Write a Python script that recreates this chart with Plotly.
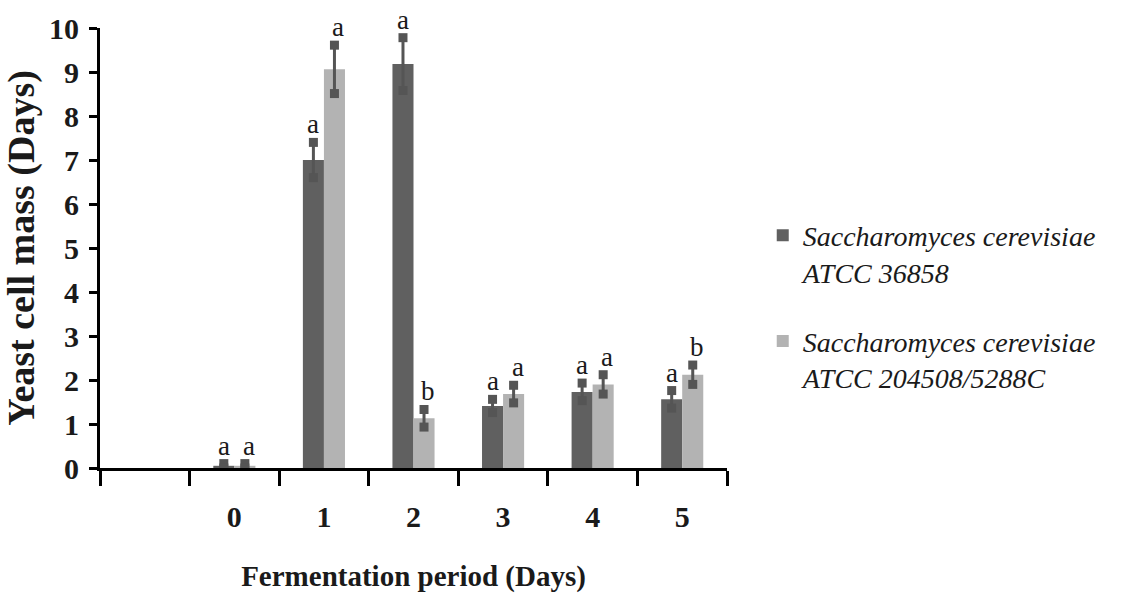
import plotly.graph_objects as go

# ---- data ----
days = [0, 1, 2, 3, 4, 5]
tick_labels = ["0", "1", "2", "3", "4", "5"]
series_names = ["<i>Saccharomyces cerevisiae</i><br><i>ATCC 36858</i>",
                "<i>Saccharomyces cerevisiae</i><br><i>ATCC 204508/5288C</i>"]
atcc36858 = [0.05, 7.0, 9.18, 1.41, 1.73, 1.56]
atcc36858_err = [0.05, 0.4, 0.6, 0.15, 0.2, 0.2]
atcc204508 = [0.05, 9.06, 1.13, 1.68, 1.9, 2.12]
atcc204508_err = [0.05, 0.55, 0.2, 0.2, 0.22, 0.22]
letters_36858 = ["a", "a", "a", "a", "a", "a"]
letters_204508 = ["a", "a", "b", "a", "a", "b"]

# ---- style ----
SERIF = "Liberation Serif"
DARK = "#606060"
LIGHT = "#b3b3b3"
ERR = "#555555"
BAR_W = 0.235  # width of each bar in category units

fig = go.Figure()

series = [
    (series_names[0], atcc36858, atcc36858_err, DARK, -BAR_W, letters_36858, 0),
    (series_names[1], atcc204508, atcc204508_err, LIGHT, 0.0, letters_204508, 4),
]

for name, vals, errs, color, off, letters, xs in series:
    fig.add_trace(go.Bar(
        x=days, y=vals, name=name, width=BAR_W, offset=off,
        marker=dict(color=color, line=dict(width=0)),
        error_y=dict(type="data", array=errs, color=ERR, thickness=3, width=0),
        legendgroup=name,
    ))
    centers = [d + off + BAR_W / 2 for d in days]
    ends_y = [v + e for v, e in zip(vals, errs)] + [v - e for v, e in zip(vals, errs)]
    fig.add_trace(go.Scatter(
        x=centers + centers, y=ends_y, mode="markers",
        marker=dict(symbol="square", size=9, color=ERR),
        showlegend=False, hoverinfo="skip",
    ))
    for c, v, e, t in zip(centers, vals, errs, letters):
        fig.add_annotation(
            x=c, y=v + e, text=t, showarrow=False, yanchor="bottom",
            xshift=xs, yshift=1,
            font=dict(family=SERIF, size=27, color="#1a1a1a"),
        )

boundaries = [d - 0.5 for d in range(-1, 7)]

fig.update_layout(
    width=1121, height=603,
    margin=dict(l=100, r=394, t=28, b=135, autoexpand=False),
    paper_bgcolor="white", plot_bgcolor="white",
    font=dict(family=SERIF, color="#1a1a1a"),
    barmode="overlay",
    showlegend=True,
    legend=dict(
        x=1.057, y=0.585, xanchor="left", yanchor="top",
        font=dict(family=SERIF, size=28, color="#1a1a1a"),
        valign="top", tracegroupgap=30, bgcolor="rgba(0,0,0,0)",
    ),
    xaxis=dict(
        range=[-1.5, 5.5],
        tickmode="array", tickvals=days, ticktext=tick_labels,
        ticks="", showgrid=False, zeroline=False,
        showline=True, linecolor="black", linewidth=3,
        tickfont=dict(family=SERIF, size=30, color="#1a1a1a", weight="bold"),
        ticklabelstandoff=20,
        minor=dict(tickmode="array", tickvals=boundaries, ticks="outside",
                   ticklen=15, tickwidth=3, tickcolor="black", showgrid=False),
        title=dict(text="Fermentation period (Days)", standoff=34,
                   font=dict(family=SERIF, size=29, color="#1a1a1a", weight="bold")),
    ),
    yaxis=dict(
        range=[0, 10], tickmode="linear", tick0=0, dtick=1,
        ticks="outside", ticklen=8, tickwidth=3, tickcolor="black",
        showgrid=False, zeroline=False,
        showline=True, linecolor="black", linewidth=3,
        tickfont=dict(family=SERIF, size=30, color="#1a1a1a", weight="bold"),
        ticklabelstandoff=4,
        title=dict(text="Yeast cell mass (Days)", standoff=8,
                   font=dict(family=SERIF, size=38, color="#1a1a1a", weight="bold")),
    ),
)

fig.write_html("out.html")
